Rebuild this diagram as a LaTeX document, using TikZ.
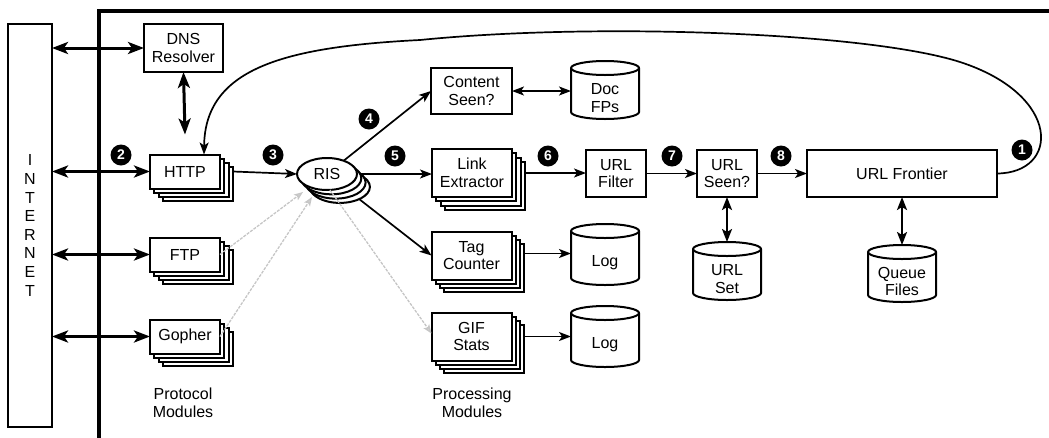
\documentclass[tikz,border=0pt]{standalone}
\usepackage{fontspec}
\setmainfont{Liberation Sans}
\usetikzlibrary{shapes.geometric,shadows,arrows.meta,backgrounds,calc}
\newcommand\dbnode[5]{%
  \node[dbbox, minimum height=#4pt] (#1) at (#2,#3) {};
  \node[align=center, inner sep=0pt] (#1-t) at ([yshift=-8pt]#1.center) {#5};
  \draw[dbline] ([yshift=-7pt]#1.north west) -- ([yshift=7pt]#1.south west)
     arc[start angle=180,end angle=360,x radius=34pt,y radius=7pt]
     -- ([yshift=-7pt]#1.north east)
     arc[start angle=0,end angle=180,x radius=34pt,y radius=7pt] -- cycle;
  \draw[dbline] ([yshift=-7pt]#1.north west)
     arc[start angle=180,end angle=360,x radius=34pt,y radius=7pt];
}
\begin{document}
\begin{tikzpicture}[x=1pt,y=1pt,
  every node/.style={font=\fontsize{16}{17.5}\selectfont},
  box/.style={draw, line width=2pt, fill=white, align=center, inner sep=0pt, outer sep=0pt},
  stack/.style={copy shadow={shadow xshift=12.9pt,shadow yshift=-12.9pt},
                copy shadow={shadow xshift=8.6pt,shadow yshift=-8.6pt},
                copy shadow={shadow xshift=4.3pt,shadow yshift=-4.3pt}},
  proto/.style={box, stack, minimum width=70pt, minimum height=34pt},
  procm/.style={box, stack, minimum width=80pt, minimum height=48pt},
  dbbox/.style={inner sep=0pt, outer sep=0pt, minimum width=68pt},
  dbline/.style={line width=2pt},
  badge/.style={circle, fill=black, text=white, inner sep=0pt, minimum size=21pt,
                font=\bfseries\fontsize{14}{14}\selectfont},
  bigarrow/.style={line width=3pt,
     {Stealth[length=16pt,width=12pt,inset=4pt]}-{Stealth[length=16pt,width=12pt,inset=4pt]}},
  flow/.style={line width=1.7pt, -{Stealth[length=12pt,width=9pt,inset=3pt]}},
  dflow/.style={line width=1.7pt,
     {Stealth[length=12pt,width=9pt,inset=3pt]}-{Stealth[length=12pt,width=9pt,inset=3pt]}},
  mflow/.style={line width=2.2pt,
     {Stealth[length=13pt,width=10pt,inset=3pt]}-{Stealth[length=13pt,width=10pt,inset=3pt]}},
  grayflow/.style={draw=gray!45, line width=1.3pt, dash pattern=on 3pt off 1.2pt,
     -{Stealth[length=9pt,width=7pt,inset=2pt,fill=gray!35]}},
  frame/.style={line width=3.5pt}
]
\useasboundingbox (0,0) rectangle (1049,-437);

% frame
\coordinate (fbl) at (99,-445);
\coordinate (ftl) at (99,-11);
\coordinate (ftr) at (1060,-11);
\draw[frame] (fbl) -- (ftl) -- (ftr);

% internet
\node[box, minimum width=44pt, minimum height=403pt,
      font=\fontsize{16}{18.6}\selectfont] (inet) at (30,-225.5)
      {I\\N\\T\\E\\R\\N\\E\\T};

% nodes
\node[box, minimum width=79pt, minimum height=48pt] (dns) at (183.5,-48) {DNS\\Resolver};
\node[proto] (http) at (185,-171.5) {HTTP};
\node[proto] (ftp) at (185,-254.5) {FTP};
\node[proto] (gopher) at (185,-336.5) {Gopher};
\node[align=center, inner sep=0pt] (protolbl) at (183,-403) {Protocol\\Modules};

\node[box, stack, ellipse, minimum width=60pt, minimum height=32pt] (ris) at (327,-174) {RIS};

\node[box, minimum width=81pt, minimum height=46pt] (content) at (471.5,-91) {Content\\Seen?};
\node[procm] (link) at (472,-173) {Link\\Extractor};
\node[procm] (tag) at (471.5,-255.5) {Tag\\Counter};
\node[procm] (gif) at (471.5,-336.5) {GIF\\Stats};
\node[align=center, inner sep=0pt] (proclbl) at (472,-403) {Processing\\Modules};

\dbnode{docfp}{605}{-90}{58}{Doc\\FPs}
\dbnode{log1}{605}{-254.5}{61}{Log}
\dbnode{log2}{605}{-336.5}{61}{Log}

\node[box, minimum width=60pt, minimum height=47pt] (filter) at (616,-173.5) {URL\\Filter};
\node[box, minimum width=60pt, minimum height=47pt] (seen) at (727,-173.5) {URL\\Seen?};
\node[box, minimum width=190pt, minimum height=47pt] (frontier) at (902,-173.5) {URL Frontier};

\dbnode{urlset}{727}{-271}{58}{URL\\Set}
\dbnode{queue}{902}{-273.5}{57}{Queue\\Files}

% badges
\node[badge] (b1) at (1022,-150) {1};
\node[badge] (b2) at (121,-155) {2};
\node[badge] (b3) at (273,-155) {3};
\node[badge] (b4) at (369,-119) {4};
\node[badge] (b5) at (395,-156) {5};
\node[badge] (b6) at (548,-156) {6};
\node[badge] (b7) at (672,-156) {7};
\node[badge] (b8) at (781,-156) {8};

% connectors hidden under RIS stack
\begin{scope}[on background layer]
\draw[flow] (ris.center) -- (content.west);
\draw[flow] (ris.center) -- (ris.center -| link.west);
\draw[flow] (ris.center) -- (tag.west);
\end{scope}

% internet arrows
\draw[bigarrow] (inet.east |- dns.west) -- (dns.west);
\draw[bigarrow] (inet.east |- http.west) -- (http.west);
\draw[bigarrow] (inet.east |- ftp.west) -- (ftp.west);
\draw[bigarrow] (inet.east |- gopher.west) -- (gopher.west);
\draw[bigarrow] (dns.south) -- ([yshift=20pt]http.north);

% main flow
\draw[flow] ([xshift=12.9pt]http.east) -- (ris.west);
\draw[flow] ([xshift=12.9pt]link.east) -- (link.east -| filter.west);
\draw[flow] (filter.east) -- (seen.west);
\draw[flow] (seen.east) -- (frontier.west);
\draw[flow] ([xshift=12.9pt,yshift=2pt]tag.east) -- ([yshift=2pt]tag.east -| log1.west);
\draw[flow] ([xshift=12.9pt]gif.east) -- (gif.east -| log2.west);
\draw[dflow] (content.east) -- (content.east -| docfp.west);
\draw[mflow] (seen.south) -- (urlset.north);
\draw[mflow] (frontier.south) -- (queue.north);

% feedback curve
\draw[flow] (frontier.east) .. controls (1060,-173) and (1062,-95) .. (960,-62)
   .. controls (870,-33) and (600,-22) .. (420,-40)
   .. controls (280,-47) and (205,-70) .. ([xshift=19pt]http.north);

% gray connectors
\draw[grayflow] (ftp.east) -- ([shift={(-24pt,-18pt)}]ris.center);
\draw[grayflow] (gopher.east) -- ([shift={(-15pt,-23pt)}]ris.center);
\draw[grayflow] ([shift={(3pt,-16pt)}]ris.center) -- ([yshift=3pt]gif.west);
\end{tikzpicture}
\end{document}
